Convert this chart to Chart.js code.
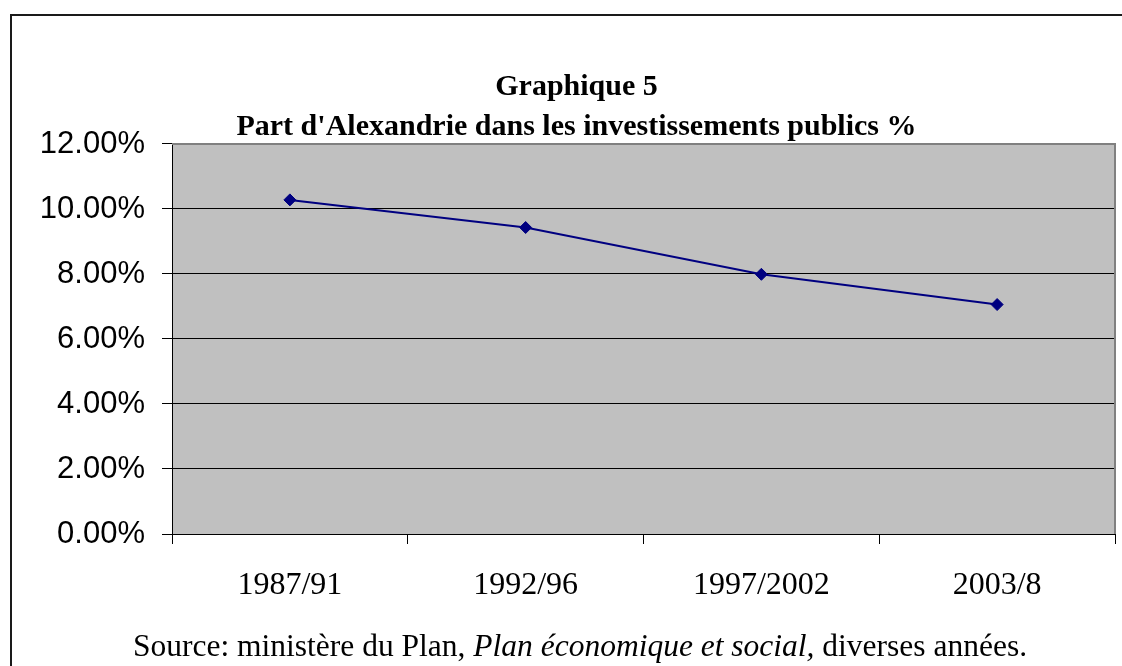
<!DOCTYPE html>
<html>
<head>
<meta charset="utf-8">
<script src="https://cdn.jsdelivr.net/npm/chart.js@4.4.0/dist/chart.umd.min.js"></script>
<style>
  html, body { margin: 0; padding: 0; background: #fff; overflow: hidden; }
  #frame { position: absolute; left: 10px; top: 14px; width: 1200px; height: 800px;
           border-left: 2px solid #1a1a1a; border-top: 2px solid #1a1a1a; }
  #wrap { position: absolute; left: 0; top: 0; width: 1122px; height: 666px; }
  #source { position: absolute; left: 0; width: 1160px; top: 630px; text-align: center;
            font: 31.5px "Liberation Serif", "Times New Roman", serif; line-height: 31px;
            white-space: nowrap; color: #000; }
</style>
</head>
<body>
<div id="frame"></div>
<div id="wrap"><canvas id="myChart" width="1122" height="666"></canvas></div>
<div id="source">Source: ministère du Plan, <i>Plan économique et social,</i> diverses années.</div>

<script>
// values (percent)
const periods = ['1987/91', '1992/96', '1997/2002', '2003/8'];
const shares = [10.28, 9.43, 7.99, 7.06];
const titleLines = ['Graphique 5', "Part d'Alexandrie dans les investissements publics %"];

// grey plot area + top/right frame like the Excel chart
const plotBox = {
    id: 'plotBox',
    beforeDraw(chart) {
        const { ctx, chartArea: a } = chart;
        ctx.save();
        ctx.fillStyle = '#c0c0c0';
        ctx.fillRect(a.left, a.top, a.right - a.left, a.bottom - a.top);
        ctx.restore();
    },
    beforeDatasetsDraw(chart) {
        const { ctx, chartArea: a } = chart;
        ctx.save();
        ctx.strokeStyle = '#808080';
        ctx.lineWidth = 2;
        ctx.beginPath();
        ctx.moveTo(a.left, a.top);
        ctx.lineTo(a.right, a.top);
        ctx.lineTo(a.right, a.bottom);
        ctx.stroke();
        ctx.restore();
    }
};

const ctx = document.getElementById('myChart').getContext('2d');

const data = {
    labels: periods,
    datasets: [{
        data: shares,
        borderColor: '#000080',
        backgroundColor: '#000080',
        borderWidth: 2,
        pointStyle: 'rectRot',
        pointRadius: 6,
        pointBorderWidth: 1,
        tension: 0
    }]
};

const config = {
    type: 'line',
    data: data,
    plugins: [plotBox],
    options: {
        responsive: false,
        animation: false,
        layout: { padding: { left: 35, right: 4, top: 0, bottom: 0 } },
        plugins: {
            legend: { display: false },
            tooltip: { enabled: false },
            title: {
                display: true,
                text: titleLines,
                color: '#000',
                font: { family: 'Liberation Serif', size: 30, weight: 'bold', lineHeight: 1.333 },
                padding: { top: 67, bottom: -3 }
            }
        },
        scales: {
            x: {
                offset: true,
                grid: { offset: true, drawOnChartArea: false, tickLength: 10, color: '#000' },
                border: { color: '#000', width: 1 },
                ticks: { padding: 22, color: '#000', font: { family: 'Liberation Serif', size: 32 } },
                afterFit: (s) => { s.height = 132; }
            },
            y: {
                min: 0,
                max: 12,
                ticks: {
                    stepSize: 2,
                    padding: 17,
                    color: '#000',
                    font: { family: 'Liberation Sans', size: 31 },
                    callback: (v) => v.toFixed(2) + '%'
                },
                grid: { color: '#000', tickLength: 10, lineWidth: 1 },
                border: { color: '#000', width: 1 },
                afterFit: (s) => { s.width = 172 - 35; }
            }
        }
    }
};

const mychart = new Chart(ctx, config);
</script>
</body>
</html>
